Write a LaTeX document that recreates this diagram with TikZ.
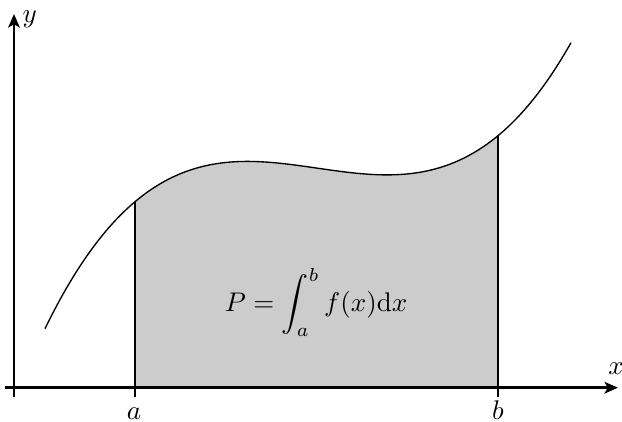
\documentclass[tikz,border=0pt]{standalone}
\usetikzlibrary{arrows.meta}
\begin{document}
\begin{tikzpicture}[x=0.3704pt, y=-0.3704pt,
  axis/.style={line width=1.1pt, -{Stealth[length=5pt,width=4.3pt,inset=1.2pt]}},
  curve/.style={line width=0.5pt},
  edge/.style={line width=0.45pt},
  lbl/.style={anchor=base, inner sep=0pt},
  declare function={hh(\t)=9.92*\t*\t*\t - 5.11*\t*\t - 13.61*\t + 222.0;}]
\useasboundingbox (0,0) rectangle (622,421);
% shaded area
\fill[black!20] (135,387.7) -- plot[domain=135:498, samples=80, smooth] (\x, {387.7 - hh((\x-300)/100)}) -- (498,387.7) -- cycle;
% curve
\draw[curve] plot[domain=45:571, samples=120, smooth] (\x, {387.7 - hh((\x-300)/100)});
% coordinates
\coordinate (a0) at (135,387.7);
\coordinate (a1) at (135,{387.7 - hh(-1.65)});
\coordinate (b0) at (498,387.7);
\coordinate (b1) at (498,{387.7 - hh(1.98)});
\draw[edge] (a0) -- (a1);
\draw[edge] (b0) -- (b1);
% axes
\coordinate (xs) at (5,387.7);
\coordinate (xe) at (618,387.7);
\coordinate (ys) at (14,396.7);
\coordinate (ye) at (14,14);
\draw[axis] (xs) -- (xe);
\draw[axis] (ys) -- (ye);
\draw[line width=1.1pt] (135,379.5) -- (135,396.7);
\draw[line width=1.1pt] (498,379.5) -- (498,396.7);
% labels
\node[lbl, anchor=base west] (ylab) at (22,22) {$y$};
\node[lbl] (xlab) at (616,374) {$x$};
\node[lbl] (alab) at (134,419) {$a$};
\node[lbl] (blab) at (498,419) {$b$};
\node[lbl] (form) at (316,311.7) {$\displaystyle P=\int_a^b f(x)\mathrm{d}x$};
\end{tikzpicture}
\end{document}
